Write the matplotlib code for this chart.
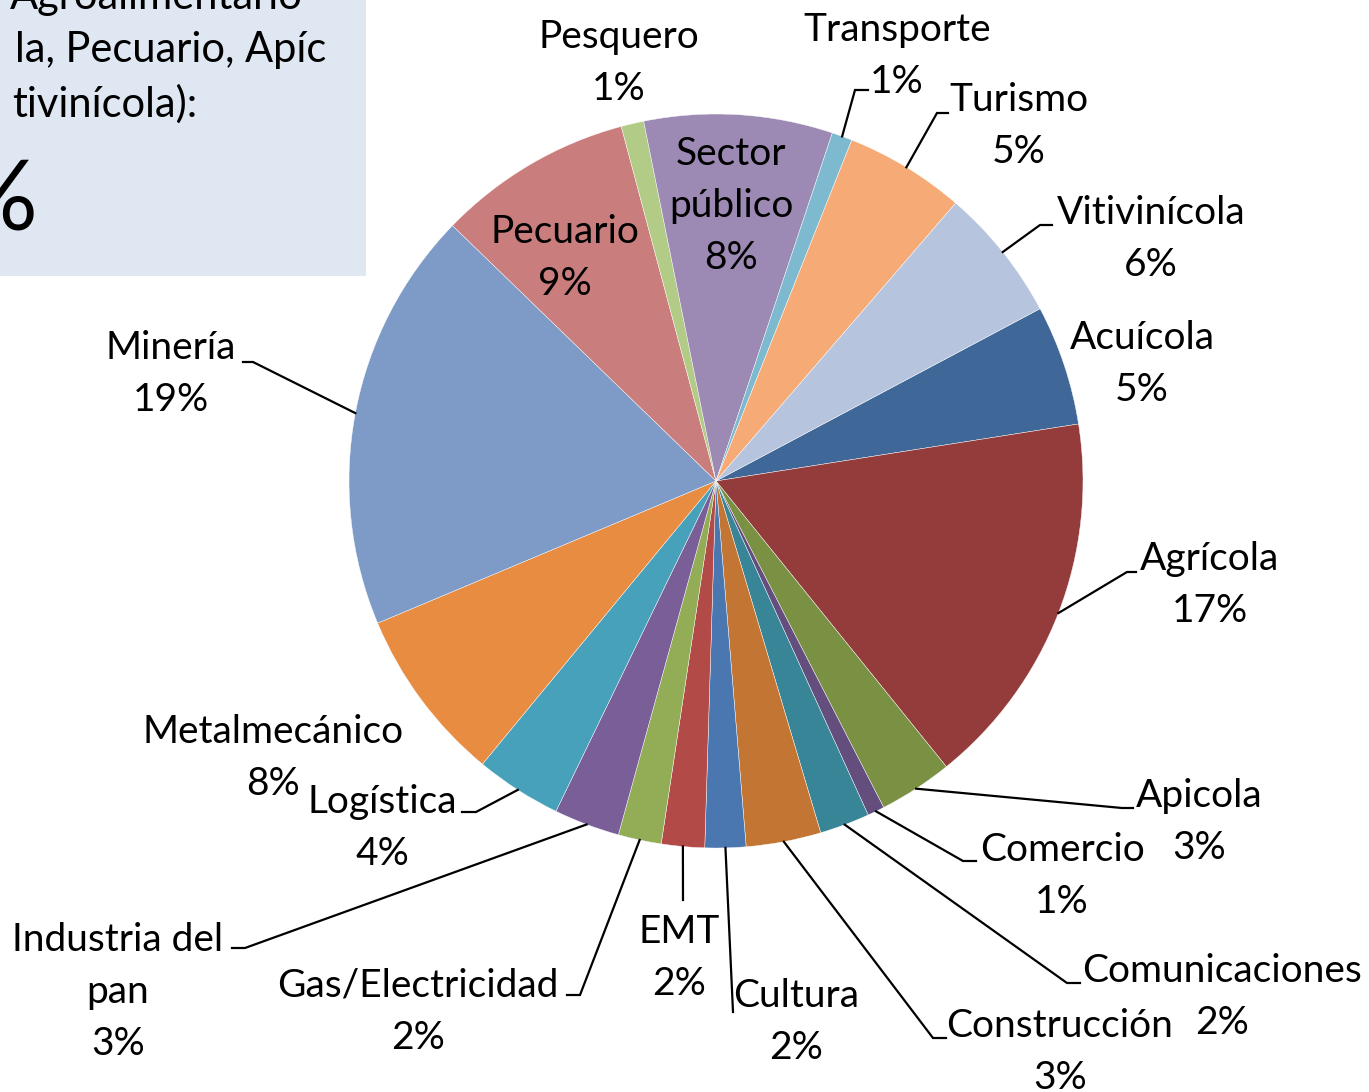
import numpy as np
import matplotlib.pyplot as plt
from matplotlib.patches import Rectangle

plt.rcParams['font.family'] = ['Lato', 'DejaVu Sans']

# Sector shares (%), alphabetical order as in the source sheet
sectors = ["Acuícola", "Agrícola", "Apicola", "Comercio", "Comunicaciones",
           "Construcción", "Cultura", "EMT", "Gas/Electricidad",
           "Industria del pan", "Logística", "Metalmecánico", "Minería",
           "Pecuario", "Pesquero", "Sector público", "Transporte", "Turismo",
           "Vitivinícola"]
shares = [5.3, 16.7, 3.25, 0.75, 2.2, 3.3, 1.8, 1.9, 1.9, 2.9, 3.8, 7.7,
          18.6, 8.6, 1.0, 8.3, 0.9, 5.3, 5.9]
colors = ["#3F6797", "#943C3B", "#7A9143", "#634E7E", "#378597", "#C37533",
          "#4A77B0", "#B24A48", "#93AD56", "#7A5E98", "#47A1BA", "#E78C41",
          "#7E9BC8", "#C97D7C", "#B2CB86", "#9C8AB4", "#7DBAD0", "#F6AA75",
          "#B6C4DE"]

# label layout in pixel coords: name lines, x centre, y of first line, leader
# leader = (elbow_x, elbow_y, end_x) or None
label_layout = {
    "Acuícola": (["Acuícola"], 1142, 338, None),
    "Agrícola": (["Agrícola"], 1210, 559, (1127, 572, 1136)),
    "Apicola": (["Apicola"], 1199, 796, (1122, 808, 1133)),
    "Comercio": (["Comercio"], 1062, 850, (963, 861, 976)),
    "Comunicaciones": (["Comunicaciones"], 1222, 971, (1067, 983, 1080)),
    "Construcción": (["Construcción"], 1060, 1026, (933, 1038, 946)),
    "Cultura": (["Cultura"], 796, 996, (733, 1012, 733)),
    "EMT": (["EMT"], 679, 932, (683, 900, 683)),
    "Gas/Electricidad": (["Gas/Electricidad"], 418, 986, (580, 995, 567)),
    "Industria del pan": (["Industria del", "pan"], 118, 940, (245, 948, 232)),
    "Logística": (["Logística"], 382, 802, (476, 812, 462)),
    "Metalmecánico": (["Metalmecánico"], 273, 732, None),
    "Minería": (["Minería"], 171, 348, (253, 362, 243)),
    "Pecuario": (["Pecuario"], 565, 232, None),
    "Pesquero": (["Pesquero"], 619, 37, None),
    "Sector público": (["Sector", "público"], 731, 154, None),
    "Transporte": (["Transporte"], 897, 30, (855, 90, 868)),
    "Turismo": (["Turismo"], 1019, 100, (937, 113, 948)),
    "Vitivinícola": (["Vitivinícola"], 1151, 213, (1040, 225, 1052)),
}

W, H = 1369, 1092
cx, cy, R = 716, 481, 367
step = 52
fs = 28

fig = plt.figure(figsize=(W / 100, H / 100), dpi=100)
ax = fig.add_axes([0, 0, 1, 1])

# y axis is inverted, so counterclock=True runs clockwise on screen
wedges, _ = ax.pie(shares, colors=colors, startangle=-28, counterclock=True,
                   center=(cx, cy), radius=R,
                   wedgeprops=dict(edgecolor="white", linewidth=0.3))
ax.set_xlim(0, W)
ax.set_ylim(H, 0)
ax.set_aspect("equal")
ax.axis("off")

for w, name, val in zip(wedges, sectors, shares):
    lines, lx, ly, leader = label_layout[name]
    lines = lines + ["%d%%" % round(val)]
    for i, t in enumerate(lines):
        ax.text(lx, ly + i * step, t, ha="center", va="center", fontsize=fs,
                color="black")
    if leader is not None:
        mid = np.deg2rad((w.theta1 + w.theta2) / 2)
        sx, sy = cx + R * np.cos(mid), cy + R * np.sin(mid)
        ex, ey, tx = leader
        ax.plot([sx, ex, tx], [sy, ey, ey], color="black", lw=1.6,
                solid_joinstyle="miter")

# partly visible text box in the upper left corner
ax.add_patch(Rectangle((0, 0), 366, 276, facecolor="#DFE7F2",
                       edgecolor="none", zorder=0))
ax.text(303, -3, "Agroalimentario", ha="right", va="center", fontsize=30)
ax.text(326, 50, "la, Pecuario, Apíc", ha="right", va="center", fontsize=30)
ax.text(197, 104, "tivinícola):", ha="right", va="center", fontsize=30)
ax.text(38, 203, "%", ha="right", va="center", fontsize=70)

fig.savefig("out.png", dpi=100)
